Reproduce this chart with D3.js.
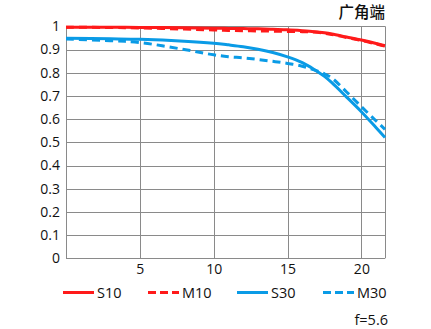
<!DOCTYPE html>
<html>
<head>
<meta charset="utf-8">
<script src="https://cdn.jsdelivr.net/npm/d3@7"></script>
<style>
  html, body { margin: 0; padding: 0; background: #fff; }
  svg text { font-family: "Open Sans", "Noto Sans", sans-serif; fill: #111; }
</style>
</head>
<body>
<svg id="chart" width="431" height="329"></svg>
<script>
// MTF curves, wide-angle end, f=5.6 (x: image height in mm, y: contrast)
const xTicks = [5, 10, 15, 20];
const yTicks = [0, 0.1, 0.2, 0.3, 0.4, 0.5, 0.6, 0.7, 0.8, 0.9, 1];
const yTickLabels = ["0", "0.1", "0.2", "0.3", "0.4", "0.5", "0.6", "0.7", "0.8", "0.9", "1"];

const heights = [0, 3, 5, 8, 10, 11, 12, 13, 14, 15, 16, 16.8, 17.5, 18, 19, 20, 21, 21.6];
const s10 = [0.996, 0.996, 0.995, 0.994, 0.992, 0.991, 0.990, 0.989, 0.987, 0.985, 0.981, 0.977, 0.972, 0.967, 0.954, 0.941, 0.926, 0.916];
const m10 = [0.996, 0.995, 0.993, 0.988, 0.984, 0.982, 0.981, 0.980, 0.979, 0.978, 0.977, 0.975, 0.970, 0.965, 0.952, 0.939, 0.924, 0.914];
const s30 = [0.948, 0.946, 0.944, 0.936, 0.927, 0.920, 0.912, 0.901, 0.887, 0.868, 0.843, 0.814, 0.784, 0.757, 0.695, 0.632, 0.563, 0.521];
const m30 = [0.945, 0.938, 0.930, 0.900, 0.877, 0.869, 0.864, 0.857, 0.849, 0.840, 0.828, 0.812, 0.795, 0.777, 0.717, 0.654, 0.592, 0.556];

const seriesNames = ["S10", "M10", "S30", "M30"];
const seriesValues = [s10, m10, s30, m30];
const seriesColors = ["#ff1a1a", "#ff1a1a", "#0a9be6", "#0a9be6"];
const seriesDashed = [false, true, false, true];

const svg = d3.select("#chart");
const plot = { left: 66, right: 385, top: 26.3, bottom: 258.3 };

const x = d3.scaleLinear().domain([0, 21.6]).range([plot.left, plot.right]);
const y = d3.scaleLinear().domain([0, 1]).range([plot.bottom, plot.top]);

// grid
const grid = svg.append("g").attr("stroke", "#8a8a8a").attr("stroke-width", 1);
grid.selectAll(".h").data(yTicks).join("line")
  .attr("x1", plot.left).attr("x2", plot.right)
  .attr("y1", d => Math.round(y(d)) + 0.5).attr("y2", d => Math.round(y(d)) + 0.5);
grid.selectAll(".v").data([0, ...xTicks, 21.6]).join("line")
  .attr("x1", d => Math.round(x(d)) + 0.5).attr("x2", d => Math.round(x(d)) + 0.5)
  .attr("y1", plot.top).attr("y2", plot.bottom);

// axes (labels only)
const yAxis = d3.axisLeft(y).tickValues(yTicks).tickSize(0).tickPadding(6)
  .tickFormat((d, i) => yTickLabels[i]);
const gy = svg.append("g").attr("transform", `translate(${plot.left},0)`).call(yAxis);
gy.select(".domain").remove();
gy.selectAll("text").attr("font-size", 14).attr("fill", "#111")
  .attr("font-family", "Open Sans, Noto Sans, sans-serif");

const xAxis = d3.axisBottom(x).tickValues(xTicks).tickSize(0).tickPadding(6)
  .tickFormat(d3.format("d"));
const gx = svg.append("g").attr("transform", `translate(0,${plot.bottom})`).call(xAxis);
gx.select(".domain").remove();
gx.selectAll("text").attr("font-size", 14).attr("fill", "#111")
  .attr("font-family", "Open Sans, Noto Sans, sans-serif");

// curves
const line = d3.line().x(d => x(d[0])).y(d => y(d[1])).curve(d3.curveCatmullRom.alpha(0.5));
const order = [1, 3, 0, 2];
order.forEach(i => {
  svg.append("path")
    .datum(heights.map((h, k) => [h, seriesValues[i][k]]))
    .attr("d", line)
    .attr("fill", "none")
    .attr("stroke", seriesColors[i])
    .attr("stroke-width", 3)
    .attr("stroke-dasharray", seriesDashed[i] ? "8,5" : null);
});

// legend
const legendX = [63, 148, 237, 323];
const legend = svg.append("g");
seriesNames.forEach((name, i) => {
  legend.append("line")
    .attr("x1", legendX[i]).attr("x2", legendX[i] + 31)
    .attr("y1", 292.5).attr("y2", 292.5)
    .attr("stroke", seriesColors[i]).attr("stroke-width", 3)
    .attr("stroke-dasharray", seriesDashed[i] ? "8,4" : null);
  legend.append("text")
    .attr("x", legendX[i] + 34).attr("y", 298)
    .attr("font-size", 14.5)
    .text(name);
});

// title and aperture note
svg.append("text")
  .attr("x", 385).attr("y", 18).attr("text-anchor", "end")
  .attr("font-size", 15.5).attr("font-weight", 500)
  .style("font-family", "'Noto Sans CJK SC', sans-serif")
  .text("广角端");
svg.append("text")
  .attr("x", 388).attr("y", 325).attr("text-anchor", "end")
  .attr("font-size", 14.5)
  .text("f=5.6");
</script>
</body>
</html>
